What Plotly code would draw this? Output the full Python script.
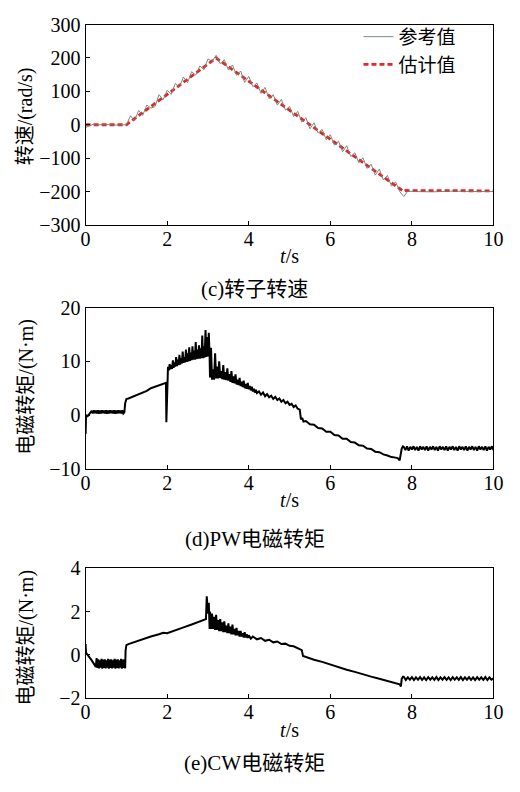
import plotly.graph_objects as go

# ---------------- data ----------------
spd_ref_pts = [(0.0,-8),(0.1,-3),(0.2,2),(0.3,-1),(0.4,1),(0.5,0),(0.6,1),(0.7,-1),(0.8,0),(0.9,1),(1.0,0),
    (1.1,27),(1.2,12),(1.3,43),(1.4,28),(1.5,59),(1.6,50),(1.7,54),(1.8,90),(1.9,75),(2.0,103),
    (2.1,91),(2.2,124),(2.3,113),(2.4,143),(2.5,126),(2.6,159),(2.7,149),(2.8,176),(2.9,165),
    (3.0,197),(3.1,190),(3.2,208),
    (3.3,183),(3.4,195),(3.5,164),(3.6,179),(3.7,148),(3.8,161),(3.9,127),(4.0,145),(4.1,114),
    (4.2,125),(4.3,94),(4.4,112),(4.5,78),(4.6,90),(4.7,59),(4.8,76),(4.9,44),(5.0,55),(5.1,25),
    (5.2,40),(5.3,8),(5.4,21),(5.5,-12),(5.6,6),(5.7,-25),(5.8,-14),(5.9,-45),(6.0,-30),(6.1,-61),
    (6.2,-49),(6.3,-81),(6.4,-63),(6.5,-95),(6.6,-84),(6.7,-114),(6.8,-99),(6.9,-131),(7.0,-118),
    (7.1,-151),(7.2,-133),(7.3,-165),(7.4,-152),(7.5,-184),(7.6,-171),(7.7,-200),(7.8,-215),
    (7.9,-199),(8.0,-200),(8.5,-201),(9.0,-199),(9.5,-200),(10.0,-200)]
est_t = [0.0, 1.0, 3.2, 7.8, 7.85, 10.0]
est_val = [0, 0, 200, -200, -197, -198]

pw_pts = [(0,-3.5),(0.01,0),(0.05,-0.2),(0.1,0.3),(0.15,0.8),
    (0.175,0.3),(0.2,0.9),(0.225,0.35),(0.25,0.85),(0.275,0.3),(0.3,0.9),(0.325,0.25),(0.35,0.85),
    (0.375,0.3),(0.4,0.9),(0.425,0.35),(0.45,0.85),(0.475,0.3),(0.5,0.9),(0.525,0.25),(0.55,0.85),
    (0.575,0.3),(0.6,0.9),(0.625,0.35),(0.65,0.85),(0.675,0.3),(0.7,0.9),(0.725,0.25),(0.75,0.85),
    (0.775,0.3),(0.8,0.9),(0.825,0.35),(0.85,0.85),(0.875,0.3),(0.9,0.9),(0.925,0.3),(0.95,0.5),
    (0.97,2.2),(1.0,3.0),(1.05,3.1),(1.2,3.6),(1.4,4.2),(1.5,4.5),(1.6,5.0),(1.8,5.5),(1.97,6.0),
    (1.98,-1.3),(1.99,3),
    (2.00,8.0),(2.02,9.0),(2.04,8.3),(2.06,9.5),(2.08,8.5),(2.10,9.3),(2.12,8.6),(2.14,10.2),
    (2.16,8.8),(2.18,9.8),(2.20,9.0),(2.22,10.8),(2.24,9.1),(2.26,10.3),(2.28,9.3),(2.30,11.2),
    (2.32,9.4),(2.34,10.6),(2.36,9.6),(2.38,11.8),(2.40,9.7),(2.42,10.8),(2.44,9.8),(2.46,12.2),
    (2.48,9.9),(2.50,11.5),(2.52,10.0),(2.54,12.6),(2.56,10.1),(2.58,11.6),(2.60,10.2),(2.62,12.8),
    (2.64,10.3),(2.66,12.0),(2.68,10.3),(2.70,13.6),(2.72,10.4),(2.74,12.2),(2.76,10.5),(2.78,13.0),
    (2.80,10.5),(2.82,12.4),(2.84,10.6),(2.86,14.8),(2.88,10.6),(2.90,12.8),(2.92,10.7),(2.94,15.8),
    (2.96,10.8),(2.98,14.5),(3.00,10.9),(3.02,15.3),(3.04,11.0),
    (3.05,7.0),(3.075,12.5),(3.10,6.6),(3.125,8.5),(3.15,6.6),(3.175,11.5),(3.20,6.8),(3.225,9.0),
    (3.25,6.8),(3.275,10.0),(3.30,6.9),(3.325,8.2),(3.35,6.7),(3.375,9.3),(3.40,6.6),(3.425,8.0),
    (3.45,6.5),(3.475,8.7),(3.50,6.4),(3.525,7.6),(3.55,6.2),(3.575,8.2),(3.60,6.0),(3.625,7.2),
    (3.65,5.9),(3.675,7.6),(3.70,5.7),(3.725,6.6),(3.75,5.6),(3.775,6.9),(3.80,5.4),(3.825,6.2),
    (3.85,5.2),(3.875,6.4),(3.90,5.0),(3.925,5.8),(3.95,4.9),(3.975,6.0),(4.00,4.8),(4.025,5.4),
    (4.05,4.6),(4.075,5.3),(4.10,4.4),(4.125,4.9),(4.15,4.2),(4.175,4.7),(4.20,4.1),
    (4.25,4.4),(4.30,3.8),(4.35,4.2),(4.40,3.5),(4.45,3.9),(4.50,3.3),(4.55,3.6),(4.60,3.0),
    (4.65,3.4),(4.70,2.8),(4.75,3.1),(4.80,2.5),(4.85,2.8),(4.90,2.2),(4.95,2.5),(5.00,1.9),
    (5.05,2.1),(5.10,1.5),(5.15,1.8),(5.20,1.2),(5.25,1.0),(5.28,-0.8),(5.31,-0.5),(5.34,-1.2),
    (5.4,-1.1),(5.5,-1.7),(5.6,-1.8),(5.7,-2.4),(5.8,-2.5),(5.9,-3.1),(6.0,-3.1),(6.1,-3.7),
    (6.2,-3.8),(6.3,-4.4),(6.4,-4.4),(6.5,-5.0),(6.6,-5.1),(6.7,-5.6),(6.8,-5.7),(6.9,-6.2),
    (7.0,-6.3),(7.1,-6.8),(7.2,-6.9),(7.3,-7.3),(7.4,-7.5),(7.5,-7.8),(7.6,-7.9),(7.65,-8.0),
    (7.7,-8.4),(7.72,-7.6),(7.75,-6.2),(7.78,-5.8),
    (7.80,-5.9),(7.84,-6.5),(7.88,-5.8),(7.92,-6.6),(7.96,-5.9),(8.00,-6.4),(8.04,-5.8),(8.08,-6.5),
    (8.12,-5.9),(8.16,-6.6),(8.20,-5.8),(8.24,-6.4),(8.28,-5.9),(8.32,-6.5),(8.36,-5.8),(8.40,-6.6),
    (8.44,-5.9),(8.48,-6.4),(8.52,-5.8),(8.56,-6.5),(8.60,-5.9),(8.64,-6.6),(8.68,-5.8),(8.72,-6.4),
    (8.76,-5.9),(8.80,-6.5),(8.84,-5.8),(8.88,-6.6),(8.92,-5.9),(8.96,-6.4),(9.00,-5.8),(9.04,-6.5),
    (9.08,-5.9),(9.12,-6.6),(9.16,-5.8),(9.20,-6.4),(9.24,-5.9),(9.28,-6.5),(9.32,-5.8),(9.36,-6.6),
    (9.40,-5.9),(9.44,-6.4),(9.48,-5.8),(9.52,-6.5),(9.56,-5.9),(9.60,-6.6),(9.64,-5.8),(9.68,-6.4),
    (9.72,-5.9),(9.76,-6.5),(9.80,-5.8),(9.84,-6.6),(9.88,-5.9),(9.92,-6.4),(9.96,-5.8),(10.00,-6.5)]

cw_pts = [(0,0.5),(0.01,0.1),(0.05,0.0),(0.1,-0.1),(0.15,-0.25),(0.2,-0.4),(0.25,-0.55),
    (0.27,-0.15),(0.29,-0.6),(0.31,-0.2),(0.33,-0.62),(0.35,-0.25),(0.37,-0.58),(0.39,-0.18),
    (0.41,-0.63),(0.43,-0.22),(0.45,-0.6),(0.47,-0.2),(0.49,-0.62),(0.51,-0.25),(0.53,-0.58),
    (0.55,-0.18),(0.57,-0.63),(0.59,-0.22),(0.61,-0.6),(0.63,-0.2),(0.65,-0.62),(0.67,-0.25),
    (0.69,-0.58),(0.71,-0.18),(0.73,-0.63),(0.75,-0.22),(0.77,-0.6),(0.79,-0.2),(0.81,-0.62),
    (0.83,-0.25),(0.85,-0.58),(0.87,-0.18),(0.89,-0.63),(0.91,-0.22),(0.93,-0.6),(0.95,-0.2),
    (0.97,-0.62),(0.98,0.2),(1.0,0.45),(1.05,0.5),(1.2,0.6),(1.4,0.72),(1.6,0.85),(1.8,0.95),
    (1.9,1.02),(2.0,1.0),(2.2,1.15),(2.4,1.27),(2.6,1.4),(2.8,1.55),(2.95,1.65),(2.97,2.7),
    (2.99,2.2),(3.0,1.9),(3.02,2.4),(3.04,1.2),
    (3.05,2.0),(3.075,1.2),(3.10,1.9),(3.125,1.2),(3.15,1.75),(3.175,1.15),(3.20,1.85),(3.225,1.15),
    (3.25,1.6),(3.275,1.1),(3.30,1.65),(3.325,1.1),(3.35,1.5),(3.375,1.05),(3.40,1.55),(3.425,1.05),
    (3.45,1.35),(3.475,1.0),(3.50,1.45),(3.525,1.0),(3.55,1.3),(3.575,0.95),(3.60,1.4),(3.625,0.95),
    (3.65,1.2),(3.675,0.9),(3.70,1.25),(3.725,0.9),(3.75,1.1),(3.775,0.85),(3.80,1.1),(3.825,0.85),
    (3.85,1.0),(3.875,0.8),(3.90,1.05),(3.925,0.8),(3.95,0.95),(3.975,0.78),(4.00,0.9),
    (4.05,0.75),(4.1,0.85),(4.2,0.72),(4.3,0.78),(4.4,0.65),(4.5,0.7),(4.6,0.58),(4.7,0.62),
    (4.8,0.5),(4.9,0.52),(5.0,0.42),(5.1,0.4),(5.2,0.3),(5.3,0.22),(5.33,-0.05),(5.4,-0.1),
    (5.6,-0.22),(5.8,-0.32),(6.0,-0.45),(6.2,-0.55),(6.4,-0.68),(6.6,-0.78),(6.8,-0.9),(7.0,-1.0),
    (7.2,-1.1),(7.4,-1.2),(7.6,-1.3),(7.7,-1.35),(7.73,-1.45),(7.75,-1.1),(7.78,-1.0),
    (7.80,-1.0),(7.85,-1.15),(7.90,-1.03),(7.95,-1.14),(8.00,-1.02),(8.05,-1.16),(8.10,-1.03),
    (8.15,-1.14),(8.20,-1.02),(8.25,-1.15),(8.30,-1.03),(8.35,-1.16),(8.40,-1.02),(8.45,-1.14),
    (8.50,-1.03),(8.55,-1.15),(8.60,-1.02),(8.65,-1.16),(8.70,-1.03),(8.75,-1.14),(8.80,-1.02),
    (8.85,-1.15),(8.90,-1.03),(8.95,-1.16),(9.00,-1.02),(9.05,-1.14),(9.10,-1.03),(9.15,-1.15),
    (9.20,-1.02),(9.25,-1.16),(9.30,-1.03),(9.35,-1.14),(9.40,-1.02),(9.45,-1.15),(9.50,-1.03),
    (9.55,-1.16),(9.60,-1.02),(9.65,-1.14),(9.70,-1.03),(9.75,-1.15),(9.80,-1.02),(9.85,-1.16),
    (9.90,-1.03),(9.95,-1.14),(10.00,-1.08)]

legend_names = ["参考值", "估计值"]
captions = ["(c)转子转速", "(d)PW电磁转矩", "(e)CW电磁转矩"]
y_titles = ["转速/(rad/s)", "电磁转矩/(N·m)", "电磁转矩/(N·m)"]

# ---------------- figure ----------------
FONT = "Liberation Serif, Times New Roman, Noto Sans CJK SC, serif"
spd_t, spd_ref = zip(*spd_ref_pts)
pw_t, pw_y = zip(*pw_pts)
cw_t, cw_y = zip(*cw_pts)

fig = go.Figure()
fig.add_trace(go.Scatter(x=est_t, y=est_val, mode="lines", name=legend_names[1], legendrank=2,
                         line=dict(color="#e3262b", width=2.8, dash="5px,3px"),
                         xaxis="x", yaxis="y"))
fig.add_trace(go.Scatter(x=spd_t, y=spd_ref, mode="lines", name=legend_names[0], legendrank=1,
                         line=dict(color="#6f806f", width=1), opacity=0.9, xaxis="x", yaxis="y"))
fig.add_trace(go.Scatter(x=pw_t, y=pw_y, mode="lines", showlegend=False,
                         line=dict(color="black", width=2), xaxis="x2", yaxis="y2"))
fig.add_trace(go.Scatter(x=cw_t, y=cw_y, mode="lines", showlegend=False,
                         line=dict(color="black", width=2), xaxis="x3", yaxis="y3"))

W, H = 520, 792
xd = [83 / W, 503 / W]
panels = [(14, 220, [-300, 300], 100), (305, 471, [-10, 20], 10), (573, 707, [-2, 4], 2)]
ytitle_y = [108, 386, 644]
cap_ys = [286, 543, 773]

axis_common = dict(showline=True, linecolor="black", linewidth=1, mirror=True,
                   ticks="inside", ticklen=4, tickcolor="black", showgrid=False,
                   zeroline=False, tickfont=dict(family=FONT, size=20, color="black"))

layout = dict(width=W, height=H, margin=dict(l=0, r=0, t=0, b=0),
              plot_bgcolor="white", paper_bgcolor="white",
              font=dict(family=FONT, color="black"),
              legend=dict(x=364 / W, y=1 - 7 / H, xanchor="left", yanchor="top",
                          bgcolor="rgba(0,0,0,0)", font=dict(family=FONT, size=19),
                          tracegroupgap=0))
annotations = []
for i, (top, bot, yr, dt) in enumerate(panels):
    sfx = "" if i == 0 else str(i + 1)
    layout["xaxis" + sfx] = dict(axis_common, domain=xd, range=[0, 10], dtick=2,
                                 anchor="y" + sfx, ticklabelstandoff=-4,
                                 title=dict(text="<i>t</i>/s", standoff=0,
                                            font=dict(family=FONT, size=20)))
    layout["yaxis" + sfx] = dict(axis_common, domain=[1 - bot / H, 1 - top / H],
                                 range=yr, dtick=dt, anchor="x" + sfx)
    annotations.append(dict(text=y_titles[i], x=22 / W, y=1 - ytitle_y[i] / H, xref="paper",
                            yref="paper", showarrow=False, textangle=-90,
                            xanchor="center", yanchor="middle",
                            font=dict(family=FONT, size=20)))
    annotations.append(dict(text=captions[i], x=257 / W, y=1 - cap_ys[i] / H, xref="paper",
                            yref="paper", showarrow=False, xanchor="center",
                            yanchor="middle", font=dict(family=FONT, size=21)))
layout["annotations"] = annotations
fig.update_layout(**layout)
fig.write_html("out.html")
